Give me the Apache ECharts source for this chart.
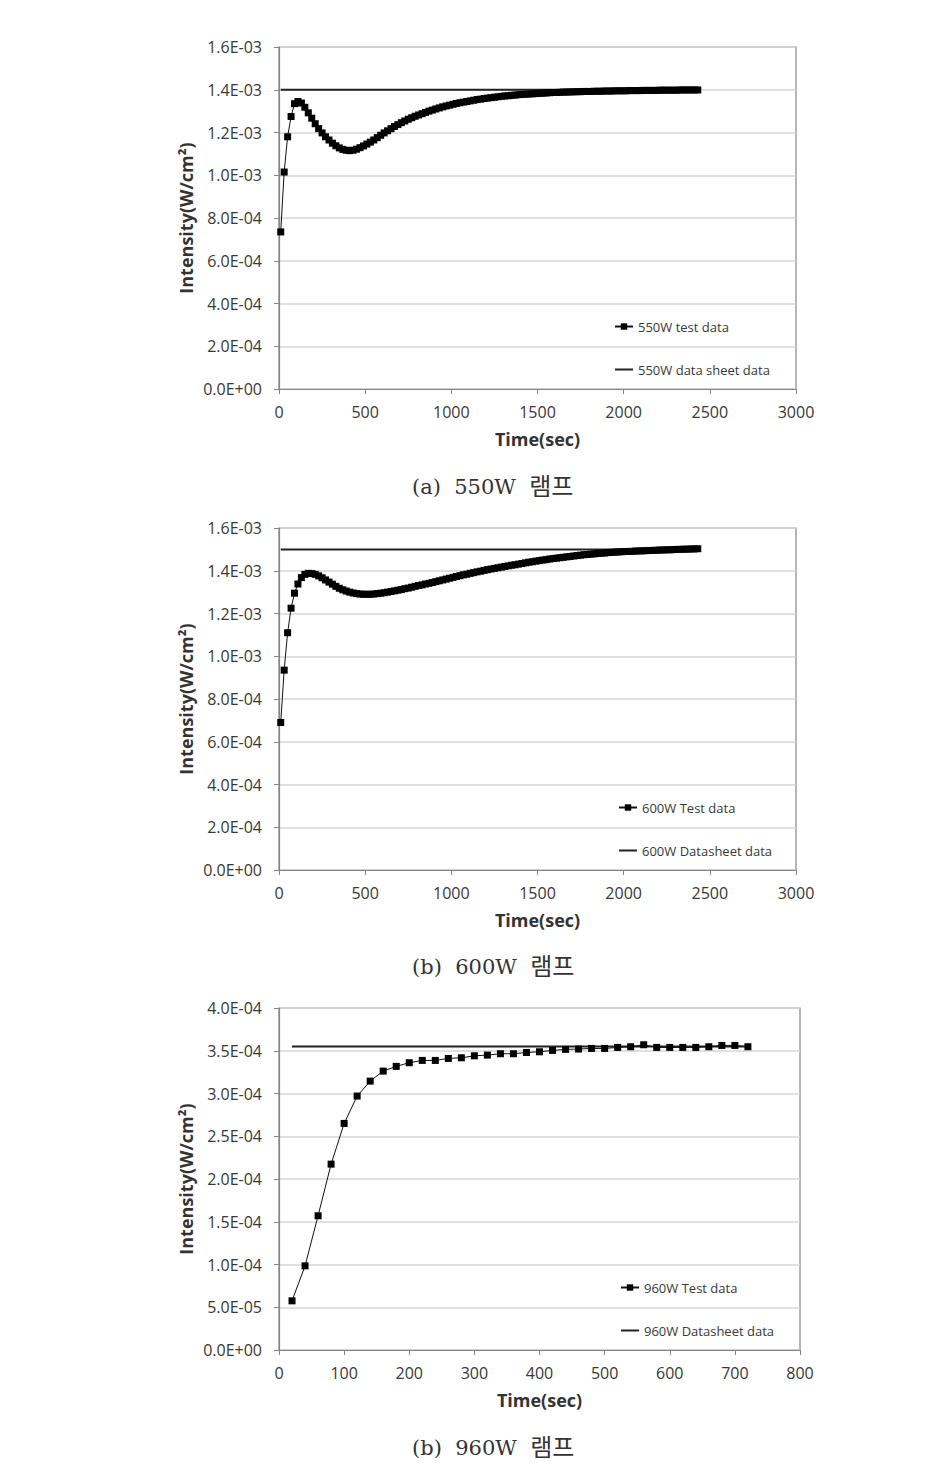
<!DOCTYPE html>
<html>
<head>
<meta charset="utf-8">
<script src="https://cdn.jsdelivr.net/npm/echarts@6/dist/echarts.min.js"></script>
<style>
  html, body { margin: 0; padding: 0; background: #fff; }
  #chart { width: 947px; height: 1479px; }
</style>
</head>
<body>
<div id="chart"></div>
<script>
// sampling times (sec) for the 550W / 600W runs
const timeLong = [
  10, 30, 50, 70, 90, 110, 130, 150, 170, 190, 210, 230, 250, 270, 290, 310, 330, 350, 370, 390,
  410, 430, 450, 470, 490, 510, 530, 550, 570, 590, 610, 630, 650, 670, 690, 710, 730, 750, 770, 790,
  810, 830, 850, 870, 890, 910, 930, 950, 970, 990, 1010, 1030, 1050, 1070, 1090, 1110, 1130, 1150, 1170, 1190,
  1210, 1230, 1250, 1270, 1290, 1310, 1330, 1350, 1370, 1390, 1410, 1430, 1450, 1470, 1490, 1510, 1530, 1550, 1570, 1590,
  1610, 1630, 1650, 1670, 1690, 1710, 1730, 1750, 1770, 1790, 1810, 1830, 1850, 1870, 1890, 1910, 1930, 1950, 1970, 1990,
  2010, 2030, 2050, 2070, 2090, 2110, 2130, 2150, 2170, 2190, 2210, 2230, 2250, 2270, 2290, 2310, 2330, 2350, 2370, 2390,
  2410, 2430
]

const test550 = [
  7.35e-4, 1.015e-3, 1.18e-3, 1.275e-3, 1.335e-3, 1.345e-3, 1.338e-3, 1.318e-3, 1.292e-3, 1.267e-3,
  1.241e-3, 1.218e-3, 1.198e-3, 1.180e-3, 1.165e-3, 1.150e-3, 1.138e-3, 1.128e-3, 1.121e-3, 1.117e-3,
  1.115e-3, 1.117e-3, 1.122e-3, 1.129e-3, 1.137e-3, 1.146e-3, 1.155e-3, 1.165e-3, 1.176e-3, 1.187e-3,
  1.198e-3, 1.208e-3, 1.218e-3, 1.228e-3, 1.237e-3, 1.246e-3, 1.254e-3, 1.262e-3, 1.269e-3, 1.276e-3,
  1.282e-3, 1.288e-3, 1.294e-3, 1.300e-3, 1.305e-3, 1.310e-3, 1.315e-3, 1.320e-3, 1.324e-3, 1.328e-3,
  1.332e-3, 1.336e-3, 1.339e-3, 1.342e-3, 1.345e-3, 1.348e-3, 1.351e-3, 1.354e-3, 1.356e-3, 1.359e-3,
  1.361e-3, 1.363e-3, 1.365e-3, 1.367e-3, 1.369e-3, 1.371e-3, 1.372e-3, 1.374e-3, 1.375e-3, 1.377e-3,
  1.378e-3, 1.379e-3, 1.380e-3, 1.381e-3, 1.382e-3, 1.383e-3, 1.384e-3, 1.385e-3, 1.386e-3, 1.387e-3,
  1.387e-3, 1.388e-3, 1.389e-3, 1.389e-3, 1.390e-3, 1.390e-3, 1.391e-3, 1.391e-3, 1.392e-3, 1.392e-3,
  1.392e-3, 1.393e-3, 1.393e-3, 1.393e-3, 1.394e-3, 1.394e-3, 1.394e-3, 1.395e-3, 1.395e-3, 1.395e-3,
  1.395e-3, 1.396e-3, 1.396e-3, 1.396e-3, 1.396e-3, 1.397e-3, 1.397e-3, 1.397e-3, 1.397e-3, 1.397e-3,
  1.398e-3, 1.398e-3, 1.398e-3, 1.398e-3, 1.398e-3, 1.398e-3, 1.399e-3, 1.399e-3, 1.399e-3, 1.399e-3,
  1.399e-3, 1.399e-3
]

const test600 = [
  6.9e-4, 9.35e-4, 1.11e-3, 1.225e-3, 1.295e-3, 1.338e-3, 1.368e-3, 1.383e-3, 1.388e-3, 1.387e-3,
  1.383e-3, 1.376e-3, 1.367e-3, 1.357e-3, 1.347e-3, 1.337e-3, 1.327e-3, 1.318e-3, 1.311e-3, 1.305e-3,
  1.300e-3, 1.296e-3, 1.293e-3, 1.291e-3, 1.290e-3, 1.290e-3, 1.290e-3, 1.291e-3, 1.293e-3, 1.295e-3,
  1.297e-3, 1.300e-3, 1.303e-3, 1.306e-3, 1.309e-3, 1.312e-3, 1.316e-3, 1.319e-3, 1.323e-3, 1.327e-3,
  1.331e-3, 1.334e-3, 1.338e-3, 1.341e-3, 1.345e-3, 1.349e-3, 1.353e-3, 1.357e-3, 1.361e-3, 1.365e-3,
  1.369e-3, 1.373e-3, 1.377e-3, 1.381e-3, 1.384e-3, 1.388e-3, 1.391e-3, 1.395e-3, 1.398e-3, 1.402e-3,
  1.405e-3, 1.408e-3, 1.411e-3, 1.414e-3, 1.417e-3, 1.420e-3, 1.423e-3, 1.426e-3, 1.428e-3, 1.431e-3,
  1.434e-3, 1.437e-3, 1.440e-3, 1.442e-3, 1.445e-3, 1.447e-3, 1.450e-3, 1.452e-3, 1.455e-3, 1.457e-3,
  1.459e-3, 1.461e-3, 1.463e-3, 1.465e-3, 1.467e-3, 1.469e-3, 1.471e-3, 1.473e-3, 1.475e-3, 1.476e-3,
  1.478e-3, 1.479e-3, 1.481e-3, 1.482e-3, 1.483e-3, 1.485e-3, 1.486e-3, 1.487e-3, 1.488e-3, 1.489e-3,
  1.490e-3, 1.490e-3, 1.491e-3, 1.492e-3, 1.493e-3, 1.493e-3, 1.494e-3, 1.495e-3, 1.495e-3, 1.496e-3,
  1.497e-3, 1.497e-3, 1.498e-3, 1.498e-3, 1.499e-3, 1.500e-3, 1.500e-3, 1.501e-3, 1.501e-3, 1.502e-3,
  1.502e-3, 1.503e-3
]

// 960W run, 20 s sampling
const time960 = [
  20, 40, 60, 80, 100, 120, 140, 160, 180, 200, 220, 240, 260, 280, 300, 320, 340, 360,
  380, 400, 420, 440, 460, 480, 500, 520, 540, 560, 580, 600, 620, 640, 660, 680, 700, 720
]
const test960 = [
  5.75e-5, 9.84e-5, 1.570e-4, 2.174e-4, 2.650e-4, 2.970e-4, 3.145e-4, 3.262e-4, 3.317e-4, 3.360e-4,
  3.387e-4, 3.387e-4, 3.410e-4, 3.418e-4, 3.441e-4, 3.449e-4, 3.465e-4, 3.465e-4, 3.480e-4, 3.488e-4,
  3.504e-4, 3.516e-4, 3.520e-4, 3.527e-4, 3.527e-4, 3.539e-4, 3.547e-4, 3.570e-4, 3.539e-4, 3.539e-4,
  3.539e-4, 3.539e-4, 3.547e-4, 3.562e-4, 3.562e-4, 3.547e-4
]

// datasheet reference levels (start / end time)
const sheetTime550 = [10, 2440]
const sheet550 = [1.4e-3, 1.4e-3]
const sheetTime600 = [10, 2440]
const sheet600 = [1.5e-3, 1.5e-3]
const sheetTime960 = [20, 720]
const sheet960 = [3.55e-4, 3.55e-4]

const panels = [
  { top: 47, width: 517, xMax: 3000, xStep: 500, yMax: 1.6e-3, yStep: 2e-4,
    legendTop: 315, legendLeft: 609, tag: '(a)', lamp: '550W', captionY: 488,
    names: ['550W test data', '550W data sheet data'],
    time: timeLong, test: test550, sheetTime: sheetTime550, sheet: sheet550 },
  { top: 528, width: 517, xMax: 3000, xStep: 500, yMax: 1.6e-3, yStep: 2e-4,
    legendTop: 796, legendLeft: 613, tag: '(b)', lamp: '600W', captionY: 968,
    names: ['600W Test data', '600W Datasheet data'],
    time: timeLong, test: test600, sheetTime: sheetTime600, sheet: sheet600 },
  { top: 1008, width: 521, xMax: 800, xStep: 100, yMax: 4e-4, yStep: 5e-5,
    legendTop: 1276, legendLeft: 615, tag: '(b)', lamp: '960W', captionY: 1449,
    names: ['960W Test data', '960W Datasheet data'],
    time: time960, test: test960, sheetTime: sheetTime960, sheet: sheet960 }
]

const sci = (v) => {
  if (v === 0) return '0.0E+00'
  const [m, e] = v.toExponential(1).split('e')
  const n = parseInt(e, 10)
  return m + 'E' + (n < 0 ? '-' : '+') + String(Math.abs(n)).padStart(2, '0')
}

const font = '"Open Sans", "Noto Sans", sans-serif'
const serif = '"DejaVu Serif", "Noto Sans CJK KR", serif'
const textColor = '#383838'
const axisColor = '#858585'

const chart = echarts.init(document.getElementById('chart'), null, { renderer: 'svg' })

const option = {
  backgroundColor: '#ffffff',
  animation: false,
  grid: panels.map(p => ({
    left: 279, top: p.top, width: p.width, height: 342,
    show: true, borderColor: axisColor, borderWidth: 1.2, backgroundColor: 'transparent'
  })),
  xAxis: panels.map((p, i) => ({
    type: 'value', gridIndex: i, min: 0, max: p.xMax, interval: p.xStep,
    name: 'Time(sec)', nameLocation: 'middle', nameGap: 41, nameMoveOverlap: false,
    nameTextStyle: { fontFamily: font, fontSize: 18, fontWeight: 'bold', color: '#333' },
    axisLine: { show: true, onZero: false, lineStyle: { color: axisColor, width: 1.2 } },
    axisTick: { show: true, inside: false, length: 5, lineStyle: { color: axisColor } },
    axisLabel: { fontFamily: font, fontSize: 16, color: textColor, margin: 15, formatter: v => String(v) },
    splitLine: { show: false }
  })),
  yAxis: panels.map((p, i) => ({
    type: 'value', gridIndex: i, min: 0, max: p.yMax, interval: p.yStep,
    name: 'Intensity(W/cm²)', nameLocation: 'middle', nameGap: 84, nameMoveOverlap: false,
    nameTextStyle: { fontFamily: font, fontSize: 18, fontWeight: 'bold', color: '#333' },
    axisLine: { show: true, lineStyle: { color: axisColor, width: 1.2 } },
    axisTick: { show: true, inside: false, length: 5, lineStyle: { color: axisColor } },
    axisLabel: { fontFamily: font, fontSize: 16, color: textColor, margin: 17, formatter: sci },
    splitLine: { show: true, lineStyle: { color: '#d6d6d6', width: 1.5 } }
  })),
  legend: panels.map(p => ({
    data: [
      p.names[0],
      { name: p.names[1], itemStyle: { color: 'rgba(0,0,0,0)', borderWidth: 0 } }
    ],
    orient: 'vertical', left: p.legendLeft, top: p.legendTop,
    itemGap: 30, itemWidth: 18, itemHeight: 8, selectedMode: false,
    textStyle: { fontFamily: font, fontSize: 13, color: textColor }
  })),
  series: panels.flatMap((p, i) => [
    {
      name: p.names[0], type: 'line', xAxisIndex: i, yAxisIndex: i,
      data: p.time.map((t, k) => [t, p.test[k]]),
      symbol: 'rect', symbolSize: 7, showAllSymbol: true,
      lineStyle: { color: '#111', width: 1 },
      itemStyle: { color: '#000' }
    },
    {
      name: p.names[1], type: 'line', xAxisIndex: i, yAxisIndex: i, z: 1,
      data: p.sheetTime.map((t, k) => [t, p.sheet[k]]),
      symbol: 'none',
      lineStyle: { color: '#222', width: 2 },
      itemStyle: { color: '#222' }
    }
  ]),
  graphic: panels.map(p => ({
    type: 'text', left: 412, top: p.captionY - 13,
    style: {
      text: `{a|${p.tag}  ${p.lamp}  }{k|램프}`,
      rich: {
        a: { font: `21px ${serif}`, fill: '#333', verticalAlign: 'middle' },
        k: { font: `24px ${serif}`, fill: '#333', verticalAlign: 'middle' }
      }
    }
  }))
}

chart.setOption(option)
</script>
</body>
</html>
